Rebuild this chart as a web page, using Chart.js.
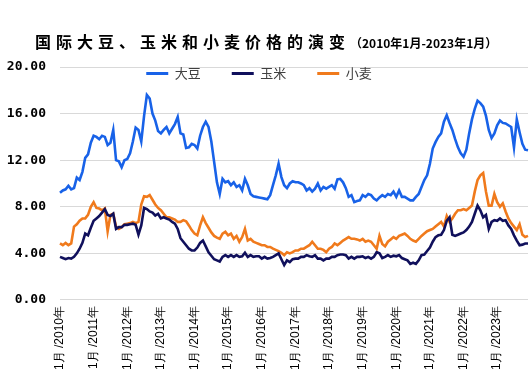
<!DOCTYPE html>
<html>
<head>
<meta charset="utf-8">
<script src="https://cdn.jsdelivr.net/npm/chart.js@4.4.1/dist/chart.umd.min.js"></script>
<style>
  html, body { margin: 0; padding: 0; background: #fff; }
  #wrap { position: relative; width: 529px; height: 383px; overflow: hidden; }
  #title { position: absolute; left: 35px; top: 29px; white-space: nowrap; color: #000;
           font-family: "Noto Sans CJK SC", sans-serif; font-weight: bold; }
  #title .main { font-size: 16px; letter-spacing: 5px; }
  #title .sub { font-size: 12px; letter-spacing: 0px; }
  canvas { position: absolute; left: 0; top: 0; }
</style>
</head>
<body>
<div id="wrap">
  <canvas id="c" width="529" height="383"></canvas>
  <div id="title"><span class="main">国际大豆、玉米和小麦价格的演变</span><span class="sub">（2010年1月-2023年1月）</span></div>
</div>
<script>
// Year tick labels (one per January)
const yearLabels = ['1月 /2010年','1月 /2011年','1月 /2012年','1月 /2013年','1月 /2014年','1月 /2015年','1月 /2016年',
                    '1月 /2017年','1月 /2018年','1月 /2019年','1月 /2020年','1月 /2021年','1月 /2022年','1月 /2023年'];
const seriesNames = ['大豆', '玉米', '小麦'];

// Monthly prices, Jan 2010 - Dec 2023
const soybean = [
  9.2, 9.4, 9.5, 9.8, 9.5, 9.6, 10.5, 10.3, 11.0, 12.2, 12.5, 13.5,
  14.1, 14.0, 13.8, 14.1, 14.0, 13.3, 13.5, 14.6, 12.0, 11.9, 11.4, 12.0,
  12.1, 12.6, 13.6, 14.8, 14.6, 13.6, 15.8, 17.6, 17.3, 16.0, 15.4, 14.5,
  14.3, 14.6, 14.85, 14.3, 14.7, 15.1, 15.7, 14.3, 14.2, 13.05, 13.1, 13.4,
  13.3, 13.0, 14.1, 14.85, 15.3, 14.85, 13.6, 11.85, 10.1, 9.1, 10.4, 10.1,
  10.2, 9.85, 10.1, 9.7, 9.85, 9.4, 10.4, 9.85, 9.1, 8.9, 8.85, 8.8,
  8.75, 8.7, 8.65, 9.0, 9.85, 10.7, 11.7, 10.55, 9.85, 9.6, 10.0, 10.2,
  10.1, 10.1, 10.0, 9.85, 9.4, 9.6, 9.3, 9.55, 10.0, 9.4, 9.7, 9.55,
  9.7, 9.85, 9.55, 10.35, 10.4, 10.1, 9.6, 8.85, 9.0, 8.4, 8.5, 8.55,
  9.0, 8.85, 9.1, 9.0, 8.7, 8.55, 8.8, 9.0, 8.85, 9.1, 9.0, 9.3,
  8.85, 9.4, 8.85, 8.85, 8.7, 8.55, 8.55, 8.85, 9.1, 9.7, 10.3, 10.7,
  11.7, 13.0, 13.55, 14.0, 14.3, 15.3, 15.85, 15.2, 14.6, 13.8, 13.1, 12.6,
  12.3, 12.9, 14.3, 15.5, 16.4, 17.1, 16.9, 16.6, 15.8, 14.6, 13.9, 14.3,
  15.0, 15.4, 15.2, 15.15, 15.0, 14.85, 13.1, 15.5, 14.4, 13.4, 12.9, 12.85
];
const corn = [
  3.7, 3.6, 3.5, 3.6, 3.55, 3.7, 4.0, 4.4, 4.9, 5.7, 5.55, 6.2,
  6.8, 7.0, 7.2, 7.5, 7.8, 7.3, 7.2, 7.4, 6.1, 6.25, 6.25, 6.45,
  6.45, 6.5, 6.55, 6.45, 5.6, 6.4, 7.9, 7.8, 7.6, 7.5, 7.25, 7.4,
  7.0, 7.1, 7.0, 6.9, 6.7, 6.55, 6.1, 5.3, 5.0, 4.7, 4.4, 4.25,
  4.25, 4.5, 4.9, 5.1, 4.6, 4.1, 3.8, 3.5, 3.4, 3.3, 3.7, 3.85,
  3.7, 3.85, 3.7, 3.85, 3.7, 3.75, 4.05, 3.7, 3.85, 3.7, 3.75, 3.75,
  3.55, 3.7, 3.55, 3.6, 3.7, 3.85, 4.0, 3.5, 3.0, 3.4, 3.25, 3.5,
  3.55, 3.55, 3.7, 3.7, 3.85, 3.75, 3.7, 3.85, 3.55, 3.55, 3.4, 3.55,
  3.55, 3.7, 3.7, 3.85, 3.9, 3.9, 3.85, 3.55, 3.7, 3.55, 3.7, 3.7,
  3.75, 3.6, 3.7, 3.55, 3.7, 4.1, 4.0, 3.6, 3.7, 3.85, 3.7, 3.8,
  3.75, 3.85, 3.6, 3.5, 3.4, 3.1, 3.2, 3.1, 3.4, 3.85, 3.9, 4.2,
  4.5, 5.0, 5.4, 5.55, 5.6, 6.0, 6.8, 7.1, 5.6, 5.5, 5.6, 5.7,
  5.8, 6.0, 6.3, 6.7, 7.4, 8.1, 7.7, 7.1, 7.3, 6.1, 6.7, 6.85,
  6.8, 7.0, 6.8, 6.85, 6.4, 6.1, 5.55, 5.1, 4.7, 4.75, 4.85, 4.85
];
const wheat = [
  4.85, 4.7, 4.9, 4.7, 4.85, 6.3, 6.5, 6.8, 7.0, 7.0, 7.3, 8.0,
  8.4, 7.9, 7.85, 7.7, 7.85, 5.9, 7.3, 7.4, 6.3, 6.1, 6.25, 6.5,
  6.55, 6.6, 6.7, 6.6, 6.7, 8.2, 8.9, 8.85, 9.0, 8.6, 8.2, 7.9,
  7.7, 7.4, 7.1, 7.1, 7.0, 6.9, 6.7, 6.7, 6.85, 6.75, 6.4, 6.0,
  5.7, 5.55, 6.4, 7.1, 6.6, 6.2, 5.8, 5.5, 5.35, 5.25, 5.7, 5.85,
  5.55, 5.7, 5.25, 5.5, 5.0, 5.4, 6.1, 5.1, 5.25, 5.0, 4.9, 4.8,
  4.7, 4.7, 4.55, 4.55, 4.4, 4.3, 4.2, 4.05, 3.85, 4.1, 4.0, 4.1,
  4.25, 4.25, 4.4, 4.4, 4.55, 4.7, 5.0, 4.7, 4.4, 4.4, 4.3, 4.1,
  4.4, 4.55, 4.85, 4.7, 4.9, 5.1, 5.25, 5.4, 5.25, 5.25, 5.2, 5.1,
  5.25, 5.0, 5.1, 5.0, 4.7, 4.4, 5.5, 4.8, 4.6, 5.0, 5.2, 5.4,
  5.25, 5.5, 5.6, 5.7, 5.5, 5.25, 5.1, 5.0, 5.25, 5.5, 5.7, 5.9,
  6.0, 6.1, 6.3, 6.5, 6.7, 6.3, 7.2, 6.7, 7.0, 7.4, 7.7, 7.7,
  7.8, 7.7, 7.9, 8.1, 9.3, 10.3, 10.7, 10.9, 9.3, 8.1, 8.1, 9.1,
  8.4, 8.0, 8.3, 7.6, 7.0, 6.6, 6.3, 6.0, 6.5, 5.6, 5.4, 5.5
];
const yTicks = { min: 0, max: 20, step: 4 };

// Monthly categories built from the year labels
const categories = [];
yearLabels.forEach(y => {
  const year = y.slice(y.indexOf('/') + 1);
  for (let m = 1; m <= 12; m++) categories.push(m + '月 /' + year);
});

const colors = ['#1862e8', '#10105c', '#f07a1c'];

const legendPlace = {
  id: 'legendPlace',
  afterInit(chart) {
    if (chart.legend) chart.legend.isHorizontal = () => true;
  },
  afterLayout(chart) {
    const lg = chart.legend;
    if (!lg) return;
    const w = lg.right - lg.left;
    const h = lg.bottom - lg.top;
    const cx = 259;
    lg.left = cx - w / 2; lg.right = cx + w / 2;
    lg.top = 36; lg.bottom = lg.top + h;
  }
};

new Chart(document.getElementById('c'), {
  type: 'line',
  data: {
    labels: categories,
    datasets: [soybean, corn, wheat].map((d, k) => ({
      label: seriesNames[k],
      data: d,
      borderColor: colors[k],
      backgroundColor: colors[k],
      borderWidth: 2.6,
      pointRadius: 0,
      tension: 0,
      fill: false
    }))
  },
  options: {
    responsive: false,
    animation: false,
    layout: { padding: { left: 5, right: 1, top: 67, bottom: 7 } },
    plugins: {
      title: { display: false },
      tooltip: { enabled: false },
      legend: {
        position: 'chartArea',
        align: 'center',
        labels: {
          boxWidth: 22,
          boxHeight: 3,
          padding: 31,
          color: '#404040',
          font: { family: '"Noto Sans CJK SC", sans-serif', size: 13 },
          generateLabels: (chart) =>
            Chart.defaults.plugins.legend.labels.generateLabels(chart).map(l => ({ ...l, lineWidth: 0 }))
        }
      }
    },
    scales: {
      x: {
        grid: { display: false, drawTicks: false },
        border: { display: false },
        ticks: {
          autoSkip: false,
          minRotation: 90,
          maxRotation: 90,
          padding: 6,
          color: '#000',
          font: { family: '"Liberation Sans", Arial, sans-serif', size: 12 },
          callback: (v, i) => (i % 12 === 0 ? categories[i] : null)
        }
      },
      y: {
        min: yTicks.min,
        max: yTicks.max,
        afterFit: (scale) => { scale.width = 55; },
        grid: { color: '#d9d9d9', lineWidth: 1, drawTicks: false },
        border: { display: false },
        ticks: {
          stepSize: yTicks.step,
          padding: 14,
          color: '#000',
          font: { family: '"DejaVu Sans Mono", monospace', size: 13, weight: 'bold' },
          callback: v => v.toFixed(2)
        }
      }
    }
  },
  plugins: [legendPlace]
});
</script>
</body>
</html>
